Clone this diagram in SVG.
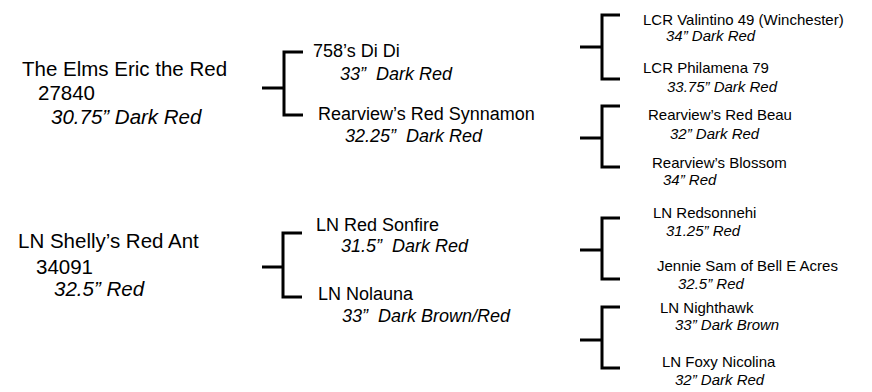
<svg xmlns="http://www.w3.org/2000/svg" width="872" height="392" viewBox="0 0 872 392">
<style>
text{font-family:"Liberation Sans",Arial,sans-serif;fill:#000;white-space:pre}
.l{font-size:20.5px}
.m{font-size:18px}
.r{font-size:15px}
.i{font-style:italic}
.br{fill:none;stroke:#000;stroke-width:3;stroke-linecap:butt;stroke-linejoin:miter}
</style>
<rect width="872" height="392" fill="#fff"/>
<g id="connectors">
<path class="br" d="M262 88H284M303 52H284V115H303"/>
<path class="br" d="M262 267H283M302 233H283V297H302"/>
<path class="br" d="M580 47H602M620 15H602V79H620"/>
<path class="br" d="M580 138H602M620 106H602V167H620"/>
<path class="br" d="M580 250H602M620 218H602V279H620"/>
<path class="br" d="M580 340H602M620 307H602V368H620"/>
</g>
<g id="n-eric">
<text class="l" x="22" y="76">The Elms Eric the Red</text>
<text class="l" x="38" y="100">27840</text>
<text class="l i" x="51" y="124">30.75” Dark Red</text>
</g>
<g id="n-shelly">
<text class="l" x="18" y="248">LN Shelly’s Red Ant</text>
<text class="l" x="36" y="274">34091</text>
<text class="l i" x="54" y="296">32.5” Red</text>
</g>
<g id="n-didi">
<text class="m" x="313" y="57">758’s Di Di</text>
<text class="m i" x="340" y="80">33”  Dark Red</text>
</g>
<g id="n-synnamon">
<text class="m" x="318" y="120">Rearview’s Red Synnamon</text>
<text class="m i" x="345" y="142">32.25”  Dark Red</text>
</g>
<g id="n-sonfire">
<text class="m" x="316" y="231">LN Red Sonfire</text>
<text class="m i" x="341" y="252">31.5”  Dark Red</text>
</g>
<g id="n-nolauna">
<text class="m" x="318" y="300">LN Nolauna</text>
<text class="m i" x="342" y="322">33”  Dark Brown/Red</text>
</g>
<g id="n-valintino">
<text class="r" x="643" y="25">LCR Valintino 49 (Winchester)</text>
<text class="r i" x="666" y="41">34” Dark Red</text>
</g>
<g id="n-philamena">
<text class="r" x="643" y="73">LCR Philamena 79</text>
<text class="r i" x="667" y="92">33.75” Dark Red</text>
</g>
<g id="n-beau">
<text class="r" x="648" y="120">Rearview’s Red Beau</text>
<text class="r i" x="670" y="139">32” Dark Red</text>
</g>
<g id="n-blossom">
<text class="r" x="652" y="168">Rearview’s Blossom</text>
<text class="r i" x="663" y="185">34” Red</text>
</g>
<g id="n-redsonnehi">
<text class="r" x="653" y="218">LN Redsonnehi</text>
<text class="r i" x="666" y="236">31.25” Red</text>
</g>
<g id="n-jennie">
<text class="r" x="657" y="271">Jennie Sam of Bell E Acres</text>
<text class="r i" x="678" y="289">32.5” Red</text>
</g>
<g id="n-nighthawk">
<text class="r" x="660" y="313">LN Nighthawk</text>
<text class="r i" x="675" y="330">33” Dark Brown</text>
</g>
<g id="n-foxy">
<text class="r" x="662" y="367">LN Foxy Nicolina</text>
<text class="r i" x="675" y="385">32” Dark Red</text>
</g>
</svg>
